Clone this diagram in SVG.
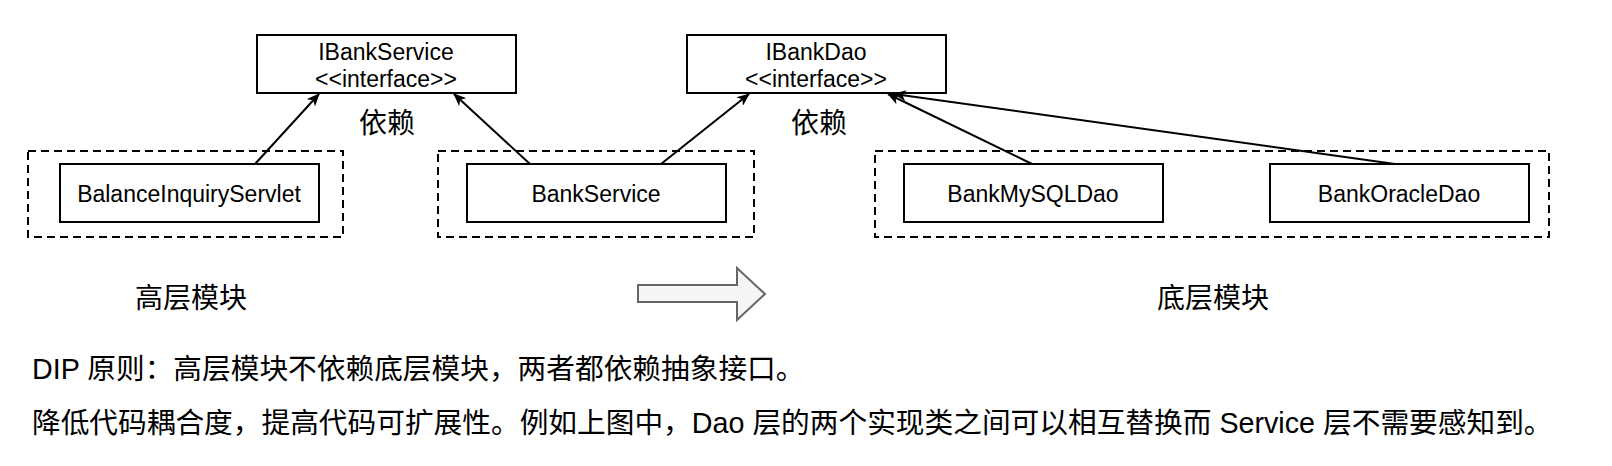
<svg xmlns="http://www.w3.org/2000/svg" width="1612" height="466" viewBox="0 0 1612 466">
<style>
.box{fill:#fff;stroke:#000;stroke-width:2}
.grp{fill:none;stroke:#000;stroke-width:2;stroke-dasharray:8 5}
.t{font-family:"Liberation Sans","Noto Sans CJK SC",sans-serif;font-size:23px;fill:#000;text-anchor:middle;dominant-baseline:central}
.cn{font-family:"Liberation Sans","Noto Sans CJK SC",sans-serif;font-size:28px;fill:#000;text-anchor:middle;dominant-baseline:central}
.body{font-family:"Liberation Sans","Noto Sans CJK SC",sans-serif;font-size:28.7px;fill:#000;dominant-baseline:central}
.edge{fill:none;stroke:#000;stroke-width:2;marker-end:url(#arr)}
</style>
<defs>
<marker id="arr" viewBox="0 0 13 11" refX="12" refY="5.5" markerWidth="13" markerHeight="11" markerUnits="userSpaceOnUse" orient="auto">
<path d="M0,0 L13,5.5 L0,11 L3.5,5.5 Z" fill="#000"/>
</marker>
</defs>
<rect width="1612" height="466" fill="#fff"/>
<g id="groups">
<rect id="high-group-1" class="grp" x="28" y="151" width="315" height="86"/>
<rect id="high-group-2" class="grp" x="438" y="151" width="316" height="86"/>
<rect id="low-group" class="grp" x="875" y="151" width="674" height="86"/>
</g>
<g id="IBankService">
<rect class="box" x="257" y="35" width="259" height="58"/>
<text class="t" x="386" y="52">IBankService</text>
<text class="t" x="386" y="79">&lt;&lt;interface&gt;&gt;</text>
</g>
<g id="IBankDao">
<rect class="box" x="687" y="35" width="259" height="58"/>
<text class="t" x="816" y="52">IBankDao</text>
<text class="t" x="816" y="79">&lt;&lt;interface&gt;&gt;</text>
</g>
<g id="BalanceInquiryServlet">
<rect class="box" x="60" y="164" width="259" height="58"/>
<text class="t" x="189" y="194">BalanceInquiryServlet</text>
</g>
<g id="BankService">
<rect class="box" x="467" y="164" width="259" height="58"/>
<text class="t" x="596" y="194">BankService</text>
</g>
<g id="BankMySQLDao">
<rect class="box" x="904" y="164" width="259" height="58"/>
<text class="t" x="1033" y="194">BankMySQLDao</text>
</g>
<g id="BankOracleDao">
<rect class="box" x="1270" y="164" width="259" height="58"/>
<text class="t" x="1399" y="194">BankOracleDao</text>
</g>
<g id="connectors">
<line class="edge" x1="255" y1="164" x2="319" y2="94"/>
<line class="edge" x1="530" y1="164" x2="454" y2="94"/>
<line class="edge" x1="661" y1="164" x2="749" y2="94"/>
<line class="edge" x1="1032" y1="164" x2="888" y2="94"/>
<line class="edge" x1="1395" y1="164" x2="894" y2="94"/>
</g>
<g id="labels">
<text class="cn" x="387" y="123">依赖</text>
<text class="cn" x="819" y="123">依赖</text>
<text class="cn" x="191" y="298">高层模块</text>
<text class="cn" x="1213" y="298">底层模块</text>
</g>
<g id="big-arrow">
<polygon points="638,285 737,285 737,268 765,294 737,320 737,302 638,302" fill="#f5f5f5" stroke="#666" stroke-width="2"/>
</g>
<g id="notes">
<text class="body" x="32" y="369">DIP 原则：高层模块不依赖底层模块，两者都依赖抽象接口。</text>
<text class="body" x="32" y="423">降低代码耦合度，提高代码可扩展性。例如上图中，Dao 层的两个实现类之间可以相互替换而 Service 层不需要感知到。</text>
</g>
</svg>
